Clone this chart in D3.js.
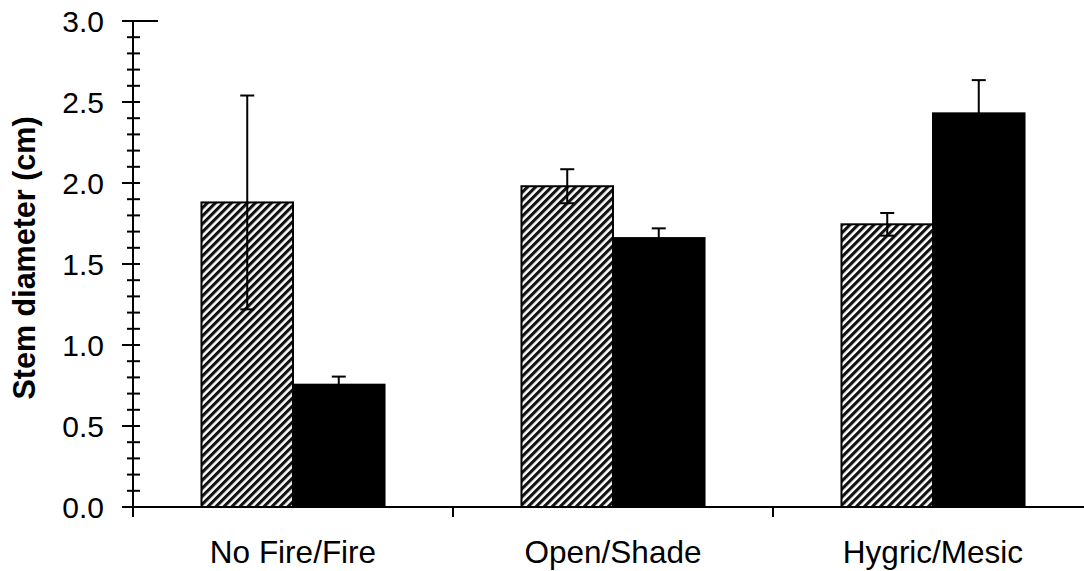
<!DOCTYPE html>
<html><head><meta charset="utf-8">
<script src="https://cdn.jsdelivr.net/npm/d3@7"></script>
<style>body{margin:0;background:#fff}svg{display:block}</style>
</head><body>
<svg id="c" width="1084" height="571"></svg>
<script>
const categories = ["No Fire/Fire", "Open/Shade", "Hygric/Mesic"];
const series = ["first", "second"];
const hatchedValues = [1.88, 1.98, 1.745];
const hatchedErrors = [0.66, 0.105, 0.07];
const blackValues = [0.755, 1.66, 2.43];
const blackErrors = [0.05, 0.06, 0.205];
const yTicks = [0, 0.5, 1.0, 1.5, 2.0, 2.5, 3.0];

const svg = d3.select("#c");
const font = "'Liberation Sans', Arial, sans-serif";

const defs = svg.append("defs");
const pat = defs.append("pattern").attr("id","hatch").attr("patternUnits","userSpaceOnUse")
  .attr("width",5.66).attr("height",10).attr("patternTransform","rotate(45)");
pat.append("rect").attr("width",5.66).attr("height",10).attr("fill","#fff");
pat.append("rect").attr("width",3.1).attr("height",10).attr("fill","#111");

const y = d3.scaleLinear().domain([0,3]).range([507,21]);
const x = d3.scaleBand().domain(categories).range([133,1093]).paddingInner(0.428).paddingOuter(0.214);
const xs = d3.scaleBand().domain(series).range([0,x.bandwidth()]);

const data = categories.map((c,i)=>[
  {c, s:"first", v:hatchedValues[i], e:hatchedErrors[i], fill:"url(#hatch)"},
  {c, s:"second", v:blackValues[i], e:blackErrors[i], fill:"#000"}
]).flat();

// bars
svg.append("g").selectAll("rect").data(data).join("rect")
  .attr("x", d=>x(d.c)+xs(d.s)).attr("width", xs.bandwidth())
  .attr("y", d=>y(d.v)).attr("height", d=>y(0)-y(d.v))
  .attr("fill", d=>d.fill).attr("stroke","#000").attr("stroke-width",2);

// error bars
const eg = svg.append("g").attr("stroke","#000").attr("stroke-width",2);
data.forEach(d=>{
  const cx = x(d.c)+xs(d.s)+xs.bandwidth()/2;
  eg.append("line").attr("x1",cx).attr("x2",cx).attr("y1",y(d.v-d.e)).attr("y2",y(d.v+d.e));
  [d.v-d.e, d.v+d.e].forEach(t=>{
    eg.append("line").attr("x1",cx-7).attr("x2",cx+7).attr("y1",y(t)).attr("y2",y(t));
  });
});

// y axis
const ax = svg.append("g").attr("stroke","#000").attr("stroke-width",2);
ax.append("line").attr("x1",133).attr("x2",133).attr("y1",y(3)).attr("y2",517);
const minor = d3.range(1,30).map(i=>i/10).filter(v=>Math.abs(v*2-Math.round(v*2))>1e-6);
ax.selectAll(".mn").data(minor).join("line").attr("class","mn")
  .attr("x1",127).attr("x2",140).attr("y1",d=>y(d)).attr("y2",d=>y(d));
ax.selectAll(".mj").data(yTicks).join("line").attr("class","mj")
  .attr("x1",122).attr("x2",d=>d===3?158:140).attr("y1",d=>y(d)).attr("y2",d=>y(d));
svg.append("g").selectAll("text").data(yTicks).join("text")
  .attr("x",104).attr("y",d=>y(d)).attr("dy","0.36em").attr("text-anchor","end")
  .attr("font-family",font).attr("font-size",30).text(d=>d3.format(".1f")(d));

// x axis
ax.append("line").attr("x1",122).attr("x2",1084).attr("y1",y(0)).attr("y2",y(0));
const bounds = categories.slice(1).map(c=>x(c)-x.step()*x.paddingInner()/2);
ax.selectAll(".xt").data(bounds).join("line").attr("class","xt")
  .attr("x1",d=>d).attr("x2",d=>d).attr("y1",y(0)).attr("y2",517);
svg.append("g").selectAll("text").data(categories).join("text")
  .attr("x",d=>x(d)+x.bandwidth()/2).attr("y",563).attr("text-anchor","middle")
  .attr("font-family",font).attr("font-size",31.5).text(d=>d);

// y label
svg.append("text").attr("transform","translate(35,258) rotate(-90)").attr("text-anchor","middle")
  .attr("font-family",font).attr("font-weight","bold").attr("font-size",30.5).text("Stem diameter (cm)");
</script>
</body></html>
